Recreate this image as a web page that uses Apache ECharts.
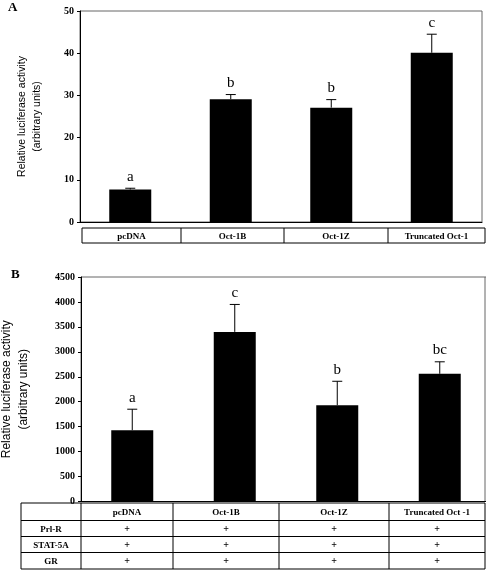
<!DOCTYPE html>
<html><head><meta charset="utf-8">
<script src="https://cdn.jsdelivr.net/npm/echarts@6/dist/echarts.min.js"></script>
<style>html,body{margin:0;padding:0;background:#fff}#c{width:486px;height:570px}</style>
</head><body><div id="c"></div>
<script>
// ---- data ----
const categories = ['pcDNA', 'Oct-1B', 'Oct-1Z', 'Truncated Oct-1'];
const headersB = ['pcDNA', 'Oct-1B', 'Oct-1Z', 'Truncated Oct -1'];
const valuesA = [7.7, 29.1, 27.1, 40.1];
const errorsA = [0.3, 1.1, 1.9, 4.4];
const lettersA = ['a', 'b', 'b', 'c'];
const valuesB = [1430, 3400, 1930, 2560];
const errorsB = [420, 550, 480, 240];
const lettersB = ['a', 'c', 'b', 'bc'];
const rowLabelsB = ['Prl-R', 'STAT-5A', 'GR'];
const rowMarksB = [['+', '+', '+', '+'], ['+', '+', '+', '+'], ['+', '+', '+', '+']];
const axisA = {min: 0, max: 50, interval: 10};
const axisB = {min: 0, max: 4500, interval: 500};
const yTitle = 'Relative luciferase activity\n(arbitrary units)';

// ---- layout ----
const FONT = '"Liberation Serif", "Times New Roman", serif';
const SANS = '"Liberation Sans", Arial, sans-serif';
const tableA = {x: 82, y: 228, h: 15, cols: [82, 181, 284, 388, 485]};
const tableB = {y: 503, rows: [503, 520.5, 536.5, 552.5, 569], cols: [21, 81, 173, 279, 389, 485]};

const chart = echarts.init(document.getElementById('c'), null, {renderer: 'canvas'});

function errSeries(gridIdx, vals, errs, letters) {
  return {
    type: 'custom', xAxisIndex: gridIdx, yAxisIndex: gridIdx, z: 5,
    data: vals.map((v, i) => [i, v, errs[i]]),
    encode: {x: 0, y: 1},
    renderItem: function (params, api) {
      const i = api.value(0), v = api.value(1), e = api.value(2);
      const base = api.coord([i, v]);
      const top = api.coord([i, v + e]);
      return {type: 'group', children: [
        {type: 'line', shape: {x1: base[0], y1: base[1], x2: top[0], y2: top[1]}, style: {stroke: '#000', lineWidth: 1}},
        {type: 'line', shape: {x1: top[0] - 5, y1: top[1], x2: top[0] + 5, y2: top[1]}, style: {stroke: '#000', lineWidth: 1}},
        {type: 'text', style: {text: letters[params.dataIndex], x: top[0], y: top[1] - 4, textAlign: 'center', textVerticalAlign: 'bottom', font: '15px ' + FONT, fill: '#000'}}
      ]};
    }
  };
}

function yAx(gridIdx, ax, nameGap, fs, lh) {
  return {
    type: 'value', gridIndex: gridIdx, min: ax.min, max: ax.max, interval: ax.interval,
    name: yTitle, nameLocation: 'middle', nameRotate: 90, nameGap: nameGap,
    nameTextStyle: {fontFamily: SANS, fontSize: fs, lineHeight: lh, color: '#000', align: 'center'},
    axisLine: {show: true, lineStyle: {color: '#000', width: 1}},
    axisTick: {show: true, inside: false, length: 3, lineStyle: {color: '#000'}},
    axisLabel: {fontFamily: FONT, fontSize: 10, fontWeight: 'bold', color: '#000', margin: 6, formatter: v => String(v)},
    splitLine: {show: false}
  };
}

const graphics = [];
graphics.push({type: 'text', left: 8, top: 1, style: {text: 'A', font: 'bold 13px ' + FONT, fill: '#000'}});
graphics.push({type: 'text', left: 11, top: 268, style: {text: 'B', font: 'bold 13px ' + FONT, fill: '#000'}});
// right frame of panel B (grid extends slightly past canvas)
graphics.push({type: 'line', shape: {x1: 485, y1: 277, x2: 485, y2: 501}, style: {stroke: '#666', lineWidth: 1}});

// table A
graphics.push({type: 'rect', shape: {x: tableA.cols[0], y: tableA.y, width: tableA.cols[4] - tableA.cols[0], height: tableA.h}, style: {fill: 'none', stroke: '#000', lineWidth: 1}});
for (let c = 1; c < tableA.cols.length - 1; c++) {
  graphics.push({type: 'line', shape: {x1: tableA.cols[c], y1: tableA.y, x2: tableA.cols[c], y2: tableA.y + tableA.h}, style: {stroke: '#000', lineWidth: 1}});
}
categories.forEach((t, i) => {
  graphics.push({type: 'text', style: {text: t, x: (tableA.cols[i] + tableA.cols[i + 1]) / 2, y: tableA.y + tableA.h / 2 + 1, textAlign: 'center', textVerticalAlign: 'middle', font: 'bold 9px ' + FONT, fill: '#000'}});
});

// table B
const tb = tableB;
graphics.push({type: 'rect', shape: {x: tb.cols[0], y: tb.rows[0], width: tb.cols[tb.cols.length - 1] - tb.cols[0], height: tb.rows[tb.rows.length - 1] - tb.rows[0]}, style: {fill: 'none', stroke: '#000', lineWidth: 1}});
for (let c = 1; c < tb.cols.length - 1; c++) {
  graphics.push({type: 'line', shape: {x1: tb.cols[c], y1: tb.rows[0], x2: tb.cols[c], y2: tb.rows[tb.rows.length - 1]}, style: {stroke: '#000', lineWidth: 1}});
}
for (let r = 1; r < tb.rows.length - 1; r++) {
  graphics.push({type: 'line', shape: {x1: tb.cols[0], y1: tb.rows[r], x2: tb.cols[tb.cols.length - 1], y2: tb.rows[r]}, style: {stroke: '#000', lineWidth: 1}});
}
headersB.forEach((t, i) => {
  graphics.push({type: 'text', style: {text: t, x: (tb.cols[i + 1] + tb.cols[i + 2]) / 2, y: (tb.rows[0] + tb.rows[1]) / 2 + 1, textAlign: 'center', textVerticalAlign: 'middle', font: 'bold 9px ' + FONT, fill: '#000'}});
});
rowLabelsB.forEach((t, r) => {
  const cy = (tb.rows[r + 1] + tb.rows[r + 2]) / 2 + 1;
  graphics.push({type: 'text', style: {text: t, x: (tb.cols[0] + tb.cols[1]) / 2, y: cy, textAlign: 'center', textVerticalAlign: 'middle', font: 'bold 9px ' + FONT, fill: '#000'}});
  rowMarksB[r].forEach((m, c) => {
    graphics.push({type: 'text', style: {text: m, x: (tb.cols[c + 1] + tb.cols[c + 2]) / 2, y: cy, textAlign: 'center', textVerticalAlign: 'middle', font: 'bold 10px ' + FONT, fill: '#000'}});
  });
});

const option = {
  animation: false,
  backgroundColor: '#fff',
  grid: [
    {left: 80, top: 11, width: 402, height: 211, show: true, borderColor: '#666', borderWidth: 1, backgroundColor: 'transparent', containLabel: false, outerBoundsMode: 'none'},
    {left: 81, top: 277, width: 410, height: 224.5, show: true, borderColor: '#666', borderWidth: 1, backgroundColor: 'transparent', containLabel: false, outerBoundsMode: 'none'}
  ],
  xAxis: [
    {type: 'category', gridIndex: 0, data: categories, axisLine: {lineStyle: {color: '#000'}}, axisTick: {show: false}, axisLabel: {show: false}},
    {type: 'category', gridIndex: 1, data: headersB, axisLine: {lineStyle: {color: '#000'}}, axisTick: {show: false}, axisLabel: {show: false}}
  ],
  yAxis: [yAx(0, axisA, 35.5, 10.5, 15), yAx(1, axisB, 49, 12, 17)],
  series: [
    {type: 'bar', xAxisIndex: 0, yAxisIndex: 0, data: valuesA, barWidth: 42, itemStyle: {color: '#000'}},
    errSeries(0, valuesA, errorsA, lettersA),
    {type: 'bar', xAxisIndex: 1, yAxisIndex: 1, data: valuesB, barWidth: 42, itemStyle: {color: '#000'}},
    errSeries(1, valuesB, errorsB, lettersB)
  ],
  graphic: graphics
};
chart.setOption(option);
</script></body></html>
